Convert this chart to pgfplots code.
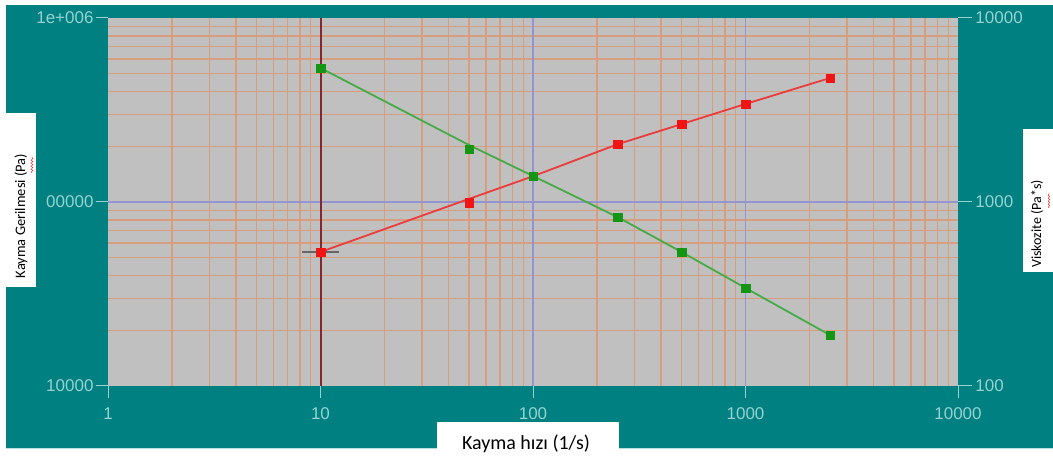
\documentclass[border=0pt]{standalone}
\usepackage{fontspec}
\setmainfont{Liberation Sans}
\newfontfamily\calibri{Carlito}
\usepackage{pgfplots}
\pgfplotsset{compat=1.18}
\usetikzlibrary{decorations.pathmorphing}
\definecolor{bgteal}{RGB}{0,128,128}
\definecolor{plotgray}{RGB}{192,192,192}
\definecolor{gridorange}{RGB}{214,158,126}
\definecolor{gridblue}{RGB}{148,148,208}
\definecolor{tickcol}{RGB}{150,210,210}
\definecolor{cursor}{RGB}{130,40,50}
\definecolor{redline}{RGB}{235,60,60}
\definecolor{redmark}{RGB}{240,20,20}
\definecolor{greenline}{RGB}{70,170,70}
\definecolor{greenmark}{RGB}{20,150,20}
\begin{document}
\begin{tikzpicture}[x=1pt,y=1pt]
\path[use as bounding box, fill=white] (0,0) rectangle (1053,461);
\fill[bgteal] (6,13) rectangle (1053,456);
\fill[tickcol!70!white] (6,12.5) rectangle (1053,13.5);
% label boxes
\fill[white] (6,174) rectangle (36,348);
\node[rotate=90, font=\calibri\fontsize{14.5}{14.5}\selectfont, text=black] at (21,245) {Kayma Gerilmesi (Pa)};
\draw[red, decorate, decoration={snake, amplitude=0.7pt, segment length=3pt}] (32,288) -- (32,304);
\fill[white] (1023,189) rectangle (1053,332);
\node[rotate=90, font=\calibri\fontsize{14}{14}\selectfont, text=black] at (1037,237) {Viskozite (Pa*s)};
\draw[red, decorate, decoration={snake, amplitude=0.7pt, segment length=3pt}] (1049,253) -- (1049,268);
\fill[white] (437,0) rectangle (619,39);
\node[font=\calibri\fontsize{20}{20}\selectfont, text=black] at (526,17) {Kayma hızı (1/s)};
\begin{axis}[
  at={(108pt,75pt)}, anchor=south west,
  scale only axis, width=850pt, height=368pt,
  xmode=log, ymode=log,
  xmin=1, xmax=10000, ymin=1e4, ymax=1e6,
  axis background/.style={fill=plotgray},
  axis x line*=bottom, axis y line*=left,
  axis line style={draw=none},
  xtick={1,10,100,1000,10000},
  xticklabels={1,10,100,1000,10000},
  minor xtick={},
  ytick={1e4,1e5,1e6},
  yticklabels={10000,00000,1e+006},
  minor ytick={},
  tick align=outside,
  major tick length=12pt, minor tick length=0pt,
  tick style={tickcol, line width=1pt},
  ticklabel style={font=\fontsize{17}{17}\selectfont, text=tickcol},
  xticklabel style={yshift=-6pt},
  yticklabel style={xshift=1pt},
  /pgf/number format/assume math mode=true,
  clip=false,
]
% grid lines (drawn as thin filled bands)
\pgfplotsinvokeforeach{2,3,4,5,6,7,8,9,20,30,40,50,60,70,80,90,200,300,400,500,600,700,800,900,2000,3000,4000,5000,6000,7000,8000,9000}{
  \fill[gridorange] ([xshift=-0.7pt]axis cs:#1,1e4) rectangle ([xshift=0.7pt]axis cs:#1,1e6);
}
\pgfplotsinvokeforeach{20000,30000,40000,50000,60000,70000,80000,90000,200000,300000,400000,500000,600000,700000,800000,900000}{
  \fill[gridorange] ([yshift=-0.7pt]axis cs:1,#1) rectangle ([yshift=0.7pt]axis cs:10000,#1);
}
\pgfplotsinvokeforeach{100,1000}{
  \fill[gridblue] ([xshift=-0.7pt]axis cs:#1,1e4) rectangle ([xshift=0.7pt]axis cs:#1,1e6);
}
\fill[gridblue] ([yshift=-0.7pt]axis cs:1,1e5) rectangle ([yshift=0.7pt]axis cs:10000,1e5);
\addplot[cursor, line width=2pt] coordinates {(10,1e4) (10,1e6)};
\addplot[black!60, line width=1.2pt] coordinates {(8.2,53500) (12.2,53500)};
\addplot[redline, line width=1.8pt] coordinates {(10,53500) (50,104000) (100,138000) (250,206000) (500,265000) (1000,341000) (2500,472000)};
\addplot[only marks, mark=square*, mark size=4.2pt, redmark] coordinates {(10,53500) (50,99000) (100,138000) (250,206000) (500,265000) (1000,341000) (2500,472000)};
\end{axis}
\begin{axis}[
  at={(108pt,75pt)}, anchor=south west,
  scale only axis, width=850pt, height=368pt,
  xmode=log, ymode=log,
  xmin=1, xmax=10000, ymin=100, ymax=10000,
  axis x line=none, axis y line*=right,
  axis line style={draw=none},
  grid=none,
  ytick={100,1000,10000},
  yticklabels={100,1000,10000},
  minor ytick={},
  tick align=outside,
  major tick length=14pt, minor tick length=0pt,
  tick style={tickcol, line width=1pt},
  ticklabel style={font=\fontsize{17}{17}\selectfont, text=tickcol},
  /pgf/number format/assume math mode=true,
  clip=false,
]
\addplot[greenline, line width=1.8pt] coordinates {(10,5350) (50,2040) (100,1384) (250,828) (500,535) (1000,341) (2500,189)};
\addplot[only marks, mark=square*, mark size=4.2pt, greenmark] coordinates {(10,5350) (50,1940) (100,1384) (250,828) (500,535) (1000,341) (2500,189)};
\end{axis}
\end{tikzpicture}
\end{document}
